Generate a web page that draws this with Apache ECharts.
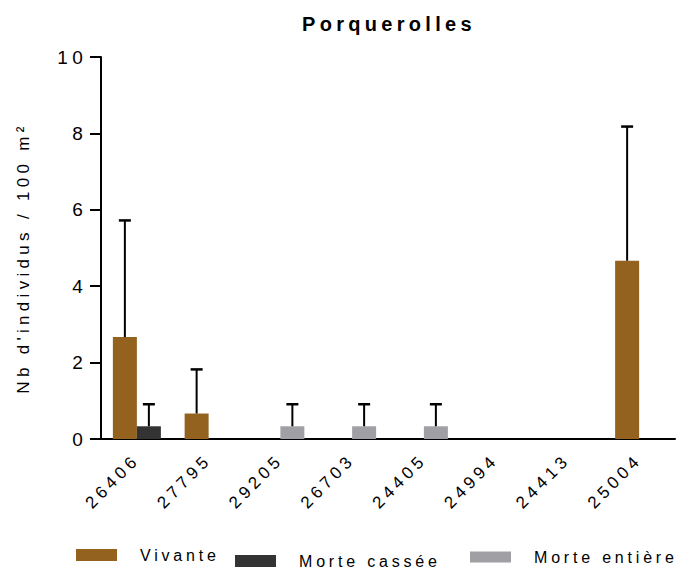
<!DOCTYPE html>
<html><head><meta charset="utf-8">
<script src="https://cdn.jsdelivr.net/npm/echarts@6/dist/echarts.min.js"></script>
<style>
html,body{margin:0;padding:0;background:#fff}
#c{width:678px;height:568px}
#c text{letter-spacing:4.3px}
</style></head><body><div id="c"></div>
<script>
const categories = ['26406','27795','29205','26703','24405','24994','24413','25004'];
const vivante = [2.667, 0.667, 0, 0, 0, 0, 0, 4.667];
const vivanteSD = [3.055, 1.155, 0, 0, 0, 0, 0, 3.512];
const morteCassee = [0.333, 0, 0, 0, 0, 0, 0, 0];
const morteCasseeSD = [0.577, 0, 0, 0, 0, 0, 0, 0];
const morteEntiere = [0, 0, 0.333, 0.333, 0.333, 0, 0, 0];
const morteEntiereSD = [0, 0, 0.577, 0.577, 0.577, 0, 0, 0];
const seriesNames = ['Vivante', 'Morte cassée', 'Morte entière'];
const colors = ['#93621f', '#333333', '#a09fa4'];

const FONT = 'Liberation Sans, Arial, sans-serif';

function errData(vals, sd) {
  return vals.map((v, i) => v > 0 ? [i, v, v + sd[i]] : null).filter(d => d);
}
function errSeries(vals, sd, offset) {
  return {
    type: 'custom',
    data: errData(vals, sd),
    encode: { x: 0, y: [1, 2] },
    z: 5,
    silent: true,
    renderItem: function (params, api) {
      const base = api.coord([api.value(0), api.value(1)]);
      const top = api.coord([api.value(0), api.value(2)]);
      const x = base[0] + offset;
      return {
        type: 'group',
        children: [
          { type: 'line', shape: { x1: x, y1: base[1], x2: x, y2: top[1] }, style: { stroke: '#000', lineWidth: 2 } },
          { type: 'line', shape: { x1: x - 6, y1: top[1], x2: x + 6, y2: top[1] }, style: { stroke: '#000', lineWidth: 2.5 } }
        ]
      };
    }
  };
}

const chart = echarts.init(document.getElementById('c'), null, { renderer: 'svg' });
const legendText = { fontSize: 16, color: '#000', fontFamily: FONT };
chart.setOption({
  animation: false,
  backgroundColor: '#fff',
  title: {
    text: 'Porquerolles', left: 389, top: 14, textAlign: 'center', padding: 0,
    textStyle: { fontSize: 20, fontWeight: 'bold', color: '#000', fontFamily: FONT }
  },
  legend: [
    { data: [seriesNames[0]], left: 76, top: 547, padding: 0, itemWidth: 41, itemHeight: 12, icon: 'rect', selectedMode: false,
      textStyle: Object.assign({ padding: [6, 0, 0, 18] }, legendText) },
    { data: [seriesNames[1]], left: 235, top: 553, padding: 0, itemWidth: 41, itemHeight: 12, icon: 'rect', selectedMode: false,
      textStyle: Object.assign({ padding: [0, 0, 0, 18] }, legendText) },
    { data: [seriesNames[2]], left: 470, top: 549, padding: 0, itemWidth: 41, itemHeight: 11, icon: 'rect', selectedMode: false,
      textStyle: Object.assign({ padding: [6, 0, 0, 18] }, legendText) }
  ],
  grid: { left: 101, right: 3, top: 57, bottom: 129, containLabel: false },
  xAxis: {
    type: 'category', data: categories,
    axisLine: { lineStyle: { color: '#000', width: 2 } },
    axisTick: { alignWithLabel: true, length: 11, lineStyle: { color: '#000', width: 2 } },
    axisLabel: { rotate: 45, fontSize: 17, color: '#000', fontFamily: FONT, margin: 18, interval: 0 }
  },
  yAxis: {
    type: 'value', min: 0, max: 10, interval: 2,
    name: "Nb d'individus / 100 m²", nameLocation: 'middle', nameGap: 69,
    nameTextStyle: { fontSize: 17, color: '#000', fontFamily: FONT, padding: [0, 20, 0, 0] },
    splitLine: { show: false },
    axisLine: { show: true, lineStyle: { color: '#000', width: 2 } },
    axisTick: { show: true, length: 11, lineStyle: { color: '#000', width: 2 } },
    axisLabel: { fontSize: 19, color: '#000', fontFamily: FONT, margin: 14, padding: [10, 0, 0, 0] }
  },
  series: [
    { name: seriesNames[0], type: 'bar', data: vivante, barWidth: 24, barGap: '0%', itemStyle: { color: colors[0] } },
    { name: seriesNames[1], type: 'bar', data: morteCassee, stack: 'morte', barWidth: 24, barGap: '0%', itemStyle: { color: colors[1] } },
    { name: seriesNames[2], type: 'bar', data: morteEntiere, stack: 'morte', barWidth: 24, barGap: '0%', itemStyle: { color: colors[2] } },
    errSeries(vivante, vivanteSD, -12),
    errSeries(morteCassee, morteCasseeSD, 12),
    errSeries(morteEntiere, morteEntiereSD, 12)
  ]
});
// legend texts are slightly tighter so the last one fits in the window
document.querySelectorAll('#c text').forEach(function (t) {
  if (seriesNames.indexOf(t.textContent) >= 0) t.style.letterSpacing = '3.8px';
});
</script></body></html>
